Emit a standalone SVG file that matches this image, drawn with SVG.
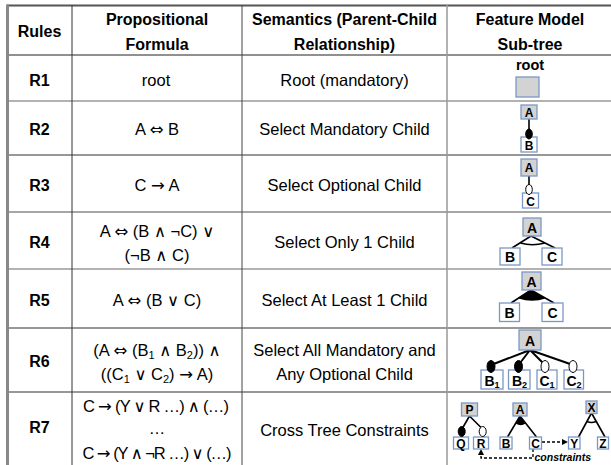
<svg xmlns="http://www.w3.org/2000/svg" width="611" height="465" viewBox="0 0 611 465">
<style>
  text { font-family: "Liberation Sans", "DejaVu Sans", sans-serif; fill: #000; }
  .h { font-size: 16px; font-weight: bold; text-anchor: middle; }
  .r { font-size: 16px; font-weight: bold; text-anchor: middle; }
  .t { font-size: 16.5px; text-anchor: middle; }
  .s { font-family: "DejaVu Sans", sans-serif; }
  .n { font-size: 12px; font-weight: bold; text-anchor: middle; }
  .nb { font-size: 14px; font-weight: bold; text-anchor: middle; }
  .box { fill: #ffffff; stroke: #7b97c6; stroke-width: 1.3; }
  .gbox { fill: #d3d3d3; stroke: #7b97c6; stroke-width: 1.3; }
  .edge { stroke: #000; stroke-width: 1.6; fill: none; }
  .edge2 { stroke: #000; stroke-width: 2; fill: none; }
  .mand { fill: #000; stroke: #000; stroke-width: 1; }
  .opt { fill: #fff; stroke: #000; stroke-width: 1; }
  .dash { stroke: #000; stroke-width: 1.3; fill: none; stroke-dasharray: 3 2; }
</style>
<defs>
  <marker id="ah" markerWidth="6" markerHeight="6" refX="5" refY="3" orient="auto" markerUnits="userSpaceOnUse">
    <path d="M0,0 L6,3 L0,6 Z" fill="#000"/>
  </marker>
</defs>

<g id="grid">
  <line x1="7" y1="5.5" x2="611" y2="5.5" stroke="#555" stroke-width="2"/>
  <line x1="7" y1="55" x2="611" y2="55" stroke="#222" stroke-width="1.2"/>
  <line x1="7" y1="101" x2="611" y2="101" stroke="#999" stroke-width="1.5"/>
  <line x1="7" y1="155" x2="611" y2="155" stroke="#333" stroke-width="1.2"/>
  <line x1="7" y1="212" x2="611" y2="212" stroke="#888" stroke-width="1.5"/>
  <line x1="7" y1="269" x2="611" y2="269" stroke="#999" stroke-width="1.5"/>
  <line x1="7" y1="328" x2="611" y2="328" stroke="#333" stroke-width="1.2"/>
  <line x1="7" y1="392" x2="611" y2="392" stroke="#333" stroke-width="1.2"/>
  <line x1="7.5" y1="4.5" x2="7.5" y2="465" stroke="#888" stroke-width="3"/>
  <line x1="72" y1="5" x2="72" y2="465" stroke="#333" stroke-width="1"/>
  <line x1="242" y1="5" x2="242" y2="465" stroke="#444" stroke-width="1"/>
  <line x1="447" y1="5" x2="447" y2="465" stroke="#999" stroke-width="1.5"/>
</g>

<g id="header">
  <text class="h" x="39.5" y="37">Rules</text>
  <text class="h" x="157" y="25">Propositional</text>
  <text class="h" x="157" y="50">Formula</text>
  <text class="h" x="344.5" y="25">Semantics (Parent-Child</text>
  <text class="h" x="344.5" y="50">Relationship)</text>
  <text class="h" x="530" y="25">Feature Model</text>
  <text class="h" x="530" y="50">Sub-tree</text>
</g>

<g id="rules">
  <text class="r" x="39.5" y="86">R1</text>
  <text class="r" x="39.5" y="135">R2</text>
  <text class="r" x="39.5" y="191">R3</text>
  <text class="r" x="39.5" y="248">R4</text>
  <text class="r" x="39.5" y="306">R5</text>
  <text class="r" x="39.5" y="367">R6</text>
  <text class="r" x="39.5" y="433">R7</text>
</g>

<g id="formulas">
  <text class="t" x="156" y="86">root</text>
  <text class="t" x="157" y="135">A <tspan class="s">⇔</tspan> B</text>
  <text class="t" x="157" y="191">C <tspan class="s">→</tspan> A</text>
  <text class="t" x="157" y="237">A <tspan class="s">⇔</tspan> (B <tspan class="s">∧</tspan> ¬C) <tspan class="s">∨</tspan></text>
  <text class="t" x="157" y="261">(¬B <tspan class="s">∧</tspan> C)</text>
  <text class="t" x="157" y="306">A <tspan class="s">⇔</tspan> (B <tspan class="s">∨</tspan> C)</text>
  <text class="t" x="157" y="356">(A <tspan class="s">⇔</tspan> (B<tspan font-size="11" dy="3">1</tspan><tspan dy="-3"> </tspan><tspan class="s">∧</tspan> B<tspan font-size="11" dy="3">2</tspan><tspan dy="-3">)) </tspan><tspan class="s">∧</tspan></text>
  <text class="t" x="157" y="380">((C<tspan font-size="11" dy="3">1</tspan><tspan dy="-3"> </tspan><tspan class="s">∨</tspan> C<tspan font-size="11" dy="3">2</tspan><tspan dy="-3">) </tspan><tspan class="s">→</tspan> A)</text>
  <text class="t" x="156" y="412" font-size="15.5" textLength="146" lengthAdjust="spacing">C <tspan class="s">→</tspan> (Y <tspan class="s">∨</tspan> R …)  <tspan class="s">∧</tspan> (…)</text>
  <text class="t" x="157" y="434">…</text>
  <text class="t" x="157" y="459" font-size="15.5" textLength="149" lengthAdjust="spacing">C <tspan class="s">→</tspan> (Y <tspan class="s">∧</tspan> ¬R …) <tspan class="s">∨</tspan> (…)</text>
</g>

<g id="semantics">
  <text class="t" x="344.5" y="86">Root (mandatory)</text>
  <text class="t" x="344.5" y="135">Select Mandatory Child</text>
  <text class="t" x="344.5" y="191">Select Optional Child</text>
  <text class="t" x="344.5" y="248">Select Only 1 Child</text>
  <text class="t" x="344.5" y="306">Select At Least 1 Child</text>
  <text class="t" x="344.5" y="356">Select All Mandatory and</text>
  <text class="t" x="344.5" y="380">Any Optional Child</text>
  <text class="t" x="344.5" y="436">Cross Tree Constraints</text>
</g>

<g id="connectors">
  <line class="edge" x1="529" y1="119" x2="529" y2="131"/>
  <line class="edge" x1="529" y1="176" x2="529" y2="186"/>
  <path class="edge" d="M531,236 L512,248 M531,236 L555,248"/>
  <path class="edge" d="M520.5,243 Q532,246.5 545,243"/>
  <path class="edge" d="M531,290 L511,303 M531,290 L554,303"/>
  <path d="M531,290 L518.5,298.5 Q532,303 545.5,298.5 Z" fill="#000"/>
  <path class="edge2" d="M530,350 L491,365 M530,350 L518.5,365 M530,350 L545,365 M530,350 L573,365"/>
  <path class="edge" d="M469.5,416 L462,429 M469.5,416 L482.5,429"/>
  <path class="edge" d="M520,416 L507.5,437 M520,416 L536.5,437"/>
  <path d="M520,416 L515.5,423.5 Q521,427 525.5,423.5 Z" fill="#000"/>
  <path class="edge" d="M591.5,413 L578.5,437 M591.5,413 L605,437"/>
  <path class="edge" d="M587,421.5 Q591.5,423.5 596,421.5"/>
  <line class="dash" x1="542" y1="442" x2="567" y2="442" marker-end="url(#ah)"/>
  <path class="dash" d="M533,449 L533,458 L481,458 L481,450" marker-end="url(#ah)"/>
</g>

<g id="fm-r1">
  <text x="530" y="70" font-size="14.5" font-weight="bold" text-anchor="middle">root</text>
  <rect class="gbox" x="516" y="77" width="23" height="20"/>
</g>

<g id="fm-r2">
  <g id="r2-A"><rect class="gbox" x="521" y="105" width="16" height="14"/><text class="n" x="529" y="117">A</text></g>
  <g id="r2-B"><rect class="box" x="521" y="137" width="16" height="15"/><text class="n" x="529" y="150">B</text></g>
  <ellipse class="mand" cx="529" cy="134" rx="3.3" ry="5"/>
</g>

<g id="fm-r3">
  <g id="r3-A"><rect class="gbox" x="521" y="159" width="16" height="17"/><text class="n" x="529" y="172">A</text></g>
  <g id="r3-C"><rect class="box" x="522.5" y="193" width="16" height="15"/><text class="n" x="530.5" y="206">C</text></g>
  <ellipse class="opt" cx="529" cy="189.5" rx="3.3" ry="5"/>
</g>

<g id="fm-r4">
  <g id="r4-A"><rect class="gbox" x="523" y="218" width="18" height="18"/><text class="nb" x="532" y="233">A</text></g>
  <g id="r4-B"><rect class="box" x="500" y="248" width="20" height="17"/><text class="nb" x="510" y="262">B</text></g>
  <g id="r4-C"><rect class="box" x="542" y="248" width="20" height="17"/><text class="nb" x="552" y="262">C</text></g>
</g>

<g id="fm-r5">
  <g id="r5-A"><rect class="gbox" x="522" y="272" width="19" height="18"/><text class="nb" x="531.5" y="287">A</text></g>
  <g id="r5-B"><rect class="box" x="499.5" y="303" width="20" height="18.5"/><text class="nb" x="509.5" y="318">B</text></g>
  <g id="r5-C"><rect class="box" x="542" y="303" width="21" height="18.5"/><text class="nb" x="552.5" y="318">C</text></g>
</g>

<g id="fm-r6">
  <g id="r6-A"><rect class="gbox" x="519" y="330" width="22" height="20"/><text class="nb" x="530" y="346">A</text></g>
  <g id="r6-B1"><rect class="box" x="481" y="370" width="22" height="19"/><text class="nb" x="492" y="386">B<tspan font-size="9" dy="2">1</tspan></text></g>
  <g id="r6-B2"><rect class="box" x="508.5" y="370" width="21.5" height="19"/><text class="nb" x="519.5" y="386">B<tspan font-size="9" dy="2">2</tspan></text></g>
  <g id="r6-C1"><rect class="box" x="537" y="370" width="20" height="19"/><text class="nb" x="547" y="386">C<tspan font-size="9" dy="2">1</tspan></text></g>
  <g id="r6-C2"><rect class="box" x="564" y="370" width="19.5" height="19"/><text class="nb" x="574" y="386">C<tspan font-size="9" dy="2">2</tspan></text></g>
  <ellipse class="mand" cx="491" cy="366.5" rx="4" ry="6"/>
  <ellipse class="mand" cx="518.5" cy="366.5" rx="4" ry="6"/>
  <ellipse class="opt" cx="545" cy="366.5" rx="4" ry="6"/>
  <ellipse class="opt" cx="573" cy="366.5" rx="4" ry="6"/>
</g>

<g id="fm-r7">
  <g id="r7-P"><rect class="gbox" x="461.5" y="403" width="16" height="13"/><text class="n" x="469.5" y="414">P</text></g>
  <g id="r7-Q"><rect class="box" x="453.5" y="437" width="15" height="12"/><text class="n" x="461" y="447.5">Q</text></g>
  <g id="r7-R"><rect class="box" x="473.5" y="437" width="15" height="12"/><text class="n" x="481" y="447.5">R</text></g>
  <g id="r7-A"><rect class="gbox" x="513" y="403" width="14" height="13"/><text class="n" x="520" y="414">A</text></g>
  <g id="r7-B"><rect class="box" x="500" y="437" width="12" height="12"/><text class="n" x="506" y="447.5">B</text></g>
  <g id="r7-C"><rect class="box" x="529.5" y="437" width="12" height="12"/><text class="n" x="535.5" y="447.5">C</text></g>
  <g id="r7-X"><rect class="gbox" x="586" y="401" width="11" height="12.5"/><text class="n" x="591.5" y="411.5">X</text></g>
  <g id="r7-Y"><rect class="box" x="568.5" y="437" width="11.5" height="12"/><text class="n" x="574.2" y="447.5">Y</text></g>
  <g id="r7-Z"><rect class="box" x="597.5" y="437" width="11" height="12"/><text class="n" x="603" y="447.5">Z</text></g>
  <ellipse class="mand" cx="461.7" cy="431.5" rx="3.5" ry="5"/>
  <ellipse class="opt" cx="482.7" cy="431.5" rx="3.5" ry="5"/>
  <text x="534.5" y="460.5" font-size="10.5" font-weight="bold" font-style="italic">constraints</text>
</g>
</svg>
